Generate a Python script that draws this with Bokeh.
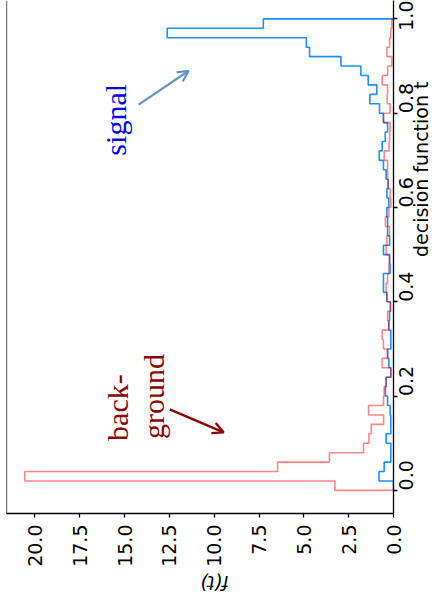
import math
from bokeh.plotting import figure
from bokeh.models import (Range1d, FixedTicker, NumeralTickFormatter, Span,
                          Label, Arrow, OpenHead)
from bokeh.embed import file_html
from bokeh.resources import INLINE

# Histogram bins of the decision function t (50 bins on [0, 1])
bin_edges = [round(i * 0.02, 2) for i in range(51)]

# Normalised densities f(t) per bin
signal = [0.00, 0.81, 0.52, 0.15, 0.15, 0.41, 0.15, 0.15, 0.19, 0.33,
          0.45, 0.41, 0.15, 0.26, 0.33, 0.15, 0.15, 0.26, 0.22, 0.17,
          0.37, 0.56, 0.56, 0.19, 0.22, 0.56, 0.22, 0.33, 0.33, 0.37,
          0.26, 0.37, 0.30, 0.41, 0.56, 0.80, 0.63, 0.46, 0.33, 0.56,
          0.78, 1.32, 0.93, 1.41, 1.82, 2.93, 4.68, 4.86, 12.62, 7.26]
background = [3.27, 20.56, 6.46, 3.57, 1.67, 1.37, 1.24, 0.55, 1.39, 0.56,
              0.52, 0.41, 0.15, 0.63, 0.33, 0.56, 0.63, 0.26, 0.33, 0.17,
              0.37, 0.41, 0.33, 0.26, 0.22, 0.41, 0.37, 0.22, 0.45, 0.26,
              0.15, 0.19, 0.30, 0.33, 0.33, 0.52, 0.25, 0.22, 0.19, 0.56,
              0.19, 0.35, 0.33, 0.63, 0.33, 0.09, 0.37, 0.22, 0.15, 0.09]

f_ticks = [0.0, 2.5, 5.0, 7.5, 10.0, 12.5, 15.0, 17.5, 20.0]
t_ticks = [0.0, 0.2, 0.4, 0.6, 0.8, 1.0]

F_MAX = 21.58
T_MIN, T_MAX = -0.049, 1.039


def step_outline(edges, vals):
    """Outline of a step histogram, with the density on the horizontal axis."""
    fs, ts = [0.0], [edges[0]]
    for i, v in enumerate(vals):
        fs += [v, v]
        ts += [edges[i], edges[i + 1]]
    fs.append(0.0)
    ts.append(edges[-1])
    return fs, ts


p = figure(width=446, height=608,
           x_range=Range1d(F_MAX, 0), y_range=Range1d(T_MIN, T_MAX),
           y_axis_location="right",
           toolbar_location=None, output_backend="svg",
           min_border_left=6, min_border_right=53,
           min_border_top=0, min_border_bottom=95)

p.background_fill_color = "white"
p.border_fill_color = "white"
p.outline_line_color = None
p.xgrid.visible = False
p.ygrid.visible = False

sf, st = step_outline(bin_edges, signal)
bf, bt = step_outline(bin_edges, background)
p.line(sf, st, line_color="#1E90FF", line_width=1.6)
p.line(bf, bt, line_color="#FF0000", line_alpha=0.47, line_width=1.6)

# left spine
p.add_layout(Span(location=F_MAX, dimension="height",
                  line_color="black", line_width=1.3))

tick_font = "DejaVu Sans"
for ax, ticks in ((p.xaxis[0], f_ticks), (p.yaxis[0], t_ticks)):
    ax.ticker = FixedTicker(ticks=ticks)
    ax.formatter = NumeralTickFormatter(format="0.0")
    ax.minor_tick_line_color = None
    ax.major_tick_in = 0
    ax.major_tick_out = 4
    ax.major_tick_line_width = 1.3
    ax.axis_line_width = 1.3
    ax.axis_line_color = "black"
    ax.major_tick_line_color = "black"
    ax.major_label_text_font = tick_font
    ax.major_label_text_font_size = "19px"
    ax.major_label_text_color = "black"
    ax.major_label_orientation = math.pi / 2
    ax.axis_label_text_font = tick_font
    ax.axis_label_text_font_size = "19px"
    ax.axis_label_text_color = "black"
    ax.axis_label_text_font_style = "normal"

p.xaxis[0].major_label_standoff = 7
p.yaxis[0].major_label_standoff = 9

# axis titles
p.yaxis[0].axis_label = "decision function t"
p.yaxis[0].axis_label_orientation = math.pi / 2
p.yaxis[0].axis_label_text_baseline = "top"
p.yaxis[0].axis_label_standoff = -3
p.xaxis[0].axis_label = "f(t)"
p.xaxis[0].axis_label_orientation = math.pi
p.xaxis[0].axis_label_text_font_style = "italic"
p.xaxis[0].axis_label_standoff = 13

# annotations
serif = "Liberation Serif"
p.add_layout(Label(x=15.48, y=0.710, text="signal", angle=math.pi / 2,
                   text_align="left", text_baseline="alphabetic",
                   text_font=serif, text_font_size="30px",
                   text_color="#0000FF"))
p.add_layout(Label(x=15.41, y=0.105, text="back-", angle=math.pi / 2,
                   text_align="left", text_baseline="alphabetic",
                   text_font=serif, text_font_size="30px",
                   text_color="#8B0000"))
p.add_layout(Label(x=13.37, y=0.109, text="ground", angle=math.pi / 2,
                   text_align="left", text_baseline="alphabetic",
                   text_font=serif, text_font_size="30px",
                   text_color="#8B0000"))

p.add_layout(Arrow(x_start=14.21, y_start=0.818, x_end=11.42, y_end=0.890,
                   line_color="#5E96C8", line_width=2.2,
                   end=OpenHead(size=11, line_color="#5E96C8", line_width=2.2)))
p.add_layout(Arrow(x_start=12.48, y_start=0.172, x_end=9.47, y_end=0.123,
                   line_color="#8B0000", line_width=2.4,
                   end=OpenHead(size=11, line_color="#8B0000", line_width=2.4)))

open("out.html", "w").write(file_html(p, INLINE))
